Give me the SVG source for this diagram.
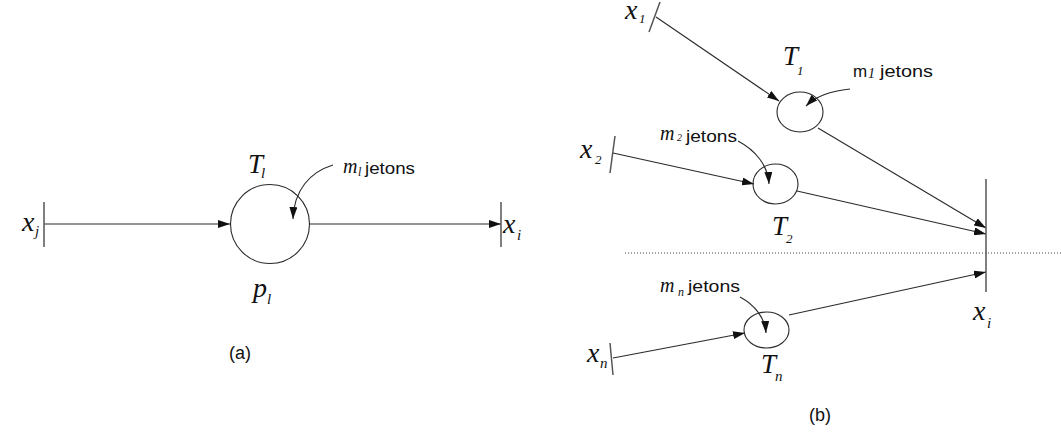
<svg xmlns="http://www.w3.org/2000/svg" width="1061" height="432" viewBox="0 0 1061 432">
<defs>
<style>
.ln{stroke:#2a2a2a;stroke-width:1.1;fill:none}
.bar{stroke:#555;stroke-width:1.5;fill:none}
.pl{stroke:#2a2a2a;stroke-width:1.1;fill:none}
.m{font-family:"Liberation Serif",serif;font-style:italic;fill:#111}
.big{font-size:28px}
.T{font-size:27px}
.sub{font-size:15px}
.s{font-family:"Liberation Sans",Arial,sans-serif;font-size:17px;fill:#111}
.dot{stroke:#444;stroke-width:1;stroke-dasharray:1 2;fill:none}
</style>
<marker id="ah" viewBox="0 0 12 8" refX="12" refY="4" markerWidth="12" markerHeight="8" markerUnits="userSpaceOnUse" orient="auto">
<path d="M0,0 L12,4 L0,8 Z" fill="#111"/>
</marker>
</defs>
<rect width="1061" height="432" fill="#fff"/>

<g id="connectors">
<line class="ln" x1="44" y1="224" x2="230" y2="224" marker-end="url(#ah)"/>
<line class="ln" x1="309" y1="224" x2="501" y2="224" marker-end="url(#ah)"/>
<path class="ln" d="M333,165 C310,172 294,190 293,219" marker-end="url(#ah)"/>

<line class="ln" x1="656" y1="17" x2="779" y2="101" marker-end="url(#ah)"/>
<line class="ln" x1="818" y1="128" x2="986" y2="228" marker-end="url(#ah)"/>
<path class="ln" d="M850,89 C830,91 815,97 806,106" marker-end="url(#ah)"/>

<line class="ln" x1="613" y1="153" x2="754" y2="184" marker-end="url(#ah)"/>
<line class="ln" x1="797" y1="191" x2="986" y2="234" marker-end="url(#ah)"/>
<path class="ln" d="M738,141 C755,150 768,165 769,184" marker-end="url(#ah)"/>

<line class="ln" x1="613" y1="358" x2="745" y2="333" marker-end="url(#ah)"/>
<line class="ln" x1="789" y1="315" x2="986" y2="272" marker-end="url(#ah)"/>
<path class="ln" d="M740,297 C755,305 765,318 766,333" marker-end="url(#ah)"/>

<line class="dot" x1="625" y1="253" x2="1061" y2="253"/>
</g>

<g id="xj">
<line class="bar" x1="44" y1="202" x2="44" y2="247"/>
<text class="m big" x="22" y="231">x</text><text class="m sub" x="35" y="236">j</text>
</g>
<g id="pl">
<circle class="pl" cx="270" cy="224" r="39.5"/>
<text class="m T" x="248" y="173">T</text><text class="m sub" x="261" y="178">l</text>
<text class="m big" x="253" y="297">p</text><text class="m sub" x="267" y="304">l</text>
<text class="m" style="font-size:20px" x="343" y="173">m</text><text class="m" style="font-size:12px" x="358" y="176">l</text>
<text class="s" x="365" y="174" textLength="50" lengthAdjust="spacingAndGlyphs">jetons</text>
</g>
<g id="xi-a">
<line class="bar" x1="501" y1="202" x2="501" y2="247"/>
<text class="m big" x="503" y="233">x</text><text class="m sub" x="517" y="240">i</text>
</g>
<text class="s" style="font-size:18px" x="229" y="359">(a)</text>

<g id="x1">
<line class="bar" x1="660" y1="2" x2="649" y2="32"/>
<text class="m big" x="625" y="19">x</text><text class="m" style="font-size:13px" x="639" y="23">1</text>
</g>
<g id="T1">
<ellipse class="pl" cx="800" cy="112" rx="23" ry="20"/>
<text class="m T" x="783" y="65">T</text><text class="m" style="font-size:13px" x="797" y="75">1</text>
<text class="s" x="853" y="77">m</text><text class="m" style="font-size:14px" x="868" y="78">1</text>
<text class="s" x="880" y="77" textLength="53" lengthAdjust="spacingAndGlyphs">jetons</text>
</g>
<g id="x2">
<line class="bar" x1="615" y1="136" x2="610" y2="173"/>
<text class="m big" x="580" y="158">x</text><text class="m" style="font-size:13px" x="595" y="164">2</text>
</g>
<g id="T2">
<ellipse class="pl" cx="775.5" cy="184" rx="22.5" ry="20"/>
<text class="m T" x="772" y="235">T</text><text class="m" style="font-size:13px" x="786" y="243">2</text>
<text class="m" style="font-size:20px" x="660" y="140">m</text><text class="m" style="font-size:10px" x="677" y="141">2</text>
<text class="s" x="686" y="142" textLength="51" lengthAdjust="spacingAndGlyphs">jetons</text>
</g>
<g id="xn">
<line class="bar" x1="610" y1="343" x2="613" y2="375"/>
<text class="m big" x="587" y="362">x</text><text class="m" style="font-size:15px" x="600" y="368">n</text>
</g>
<g id="Tn">
<ellipse class="pl" cx="766.5" cy="330" rx="22.5" ry="18"/>
<text class="m T" x="761" y="373">T</text><text class="m" style="font-size:15px" x="775" y="381">n</text>
<text class="m" style="font-size:20px" x="660" y="292">m</text><text class="m" style="font-size:12px" x="678" y="296">n</text>
<text class="s" x="688" y="292" textLength="52" lengthAdjust="spacingAndGlyphs">jetons</text>
</g>
<g id="xi-b">
<line class="bar" x1="986" y1="179" x2="986" y2="292"/>
<text class="m big" x="973" y="320">x</text><text class="m sub" x="987" y="328">i</text>
</g>
<text class="s" style="font-size:18px" x="809" y="421">(b)</text>
</svg>
